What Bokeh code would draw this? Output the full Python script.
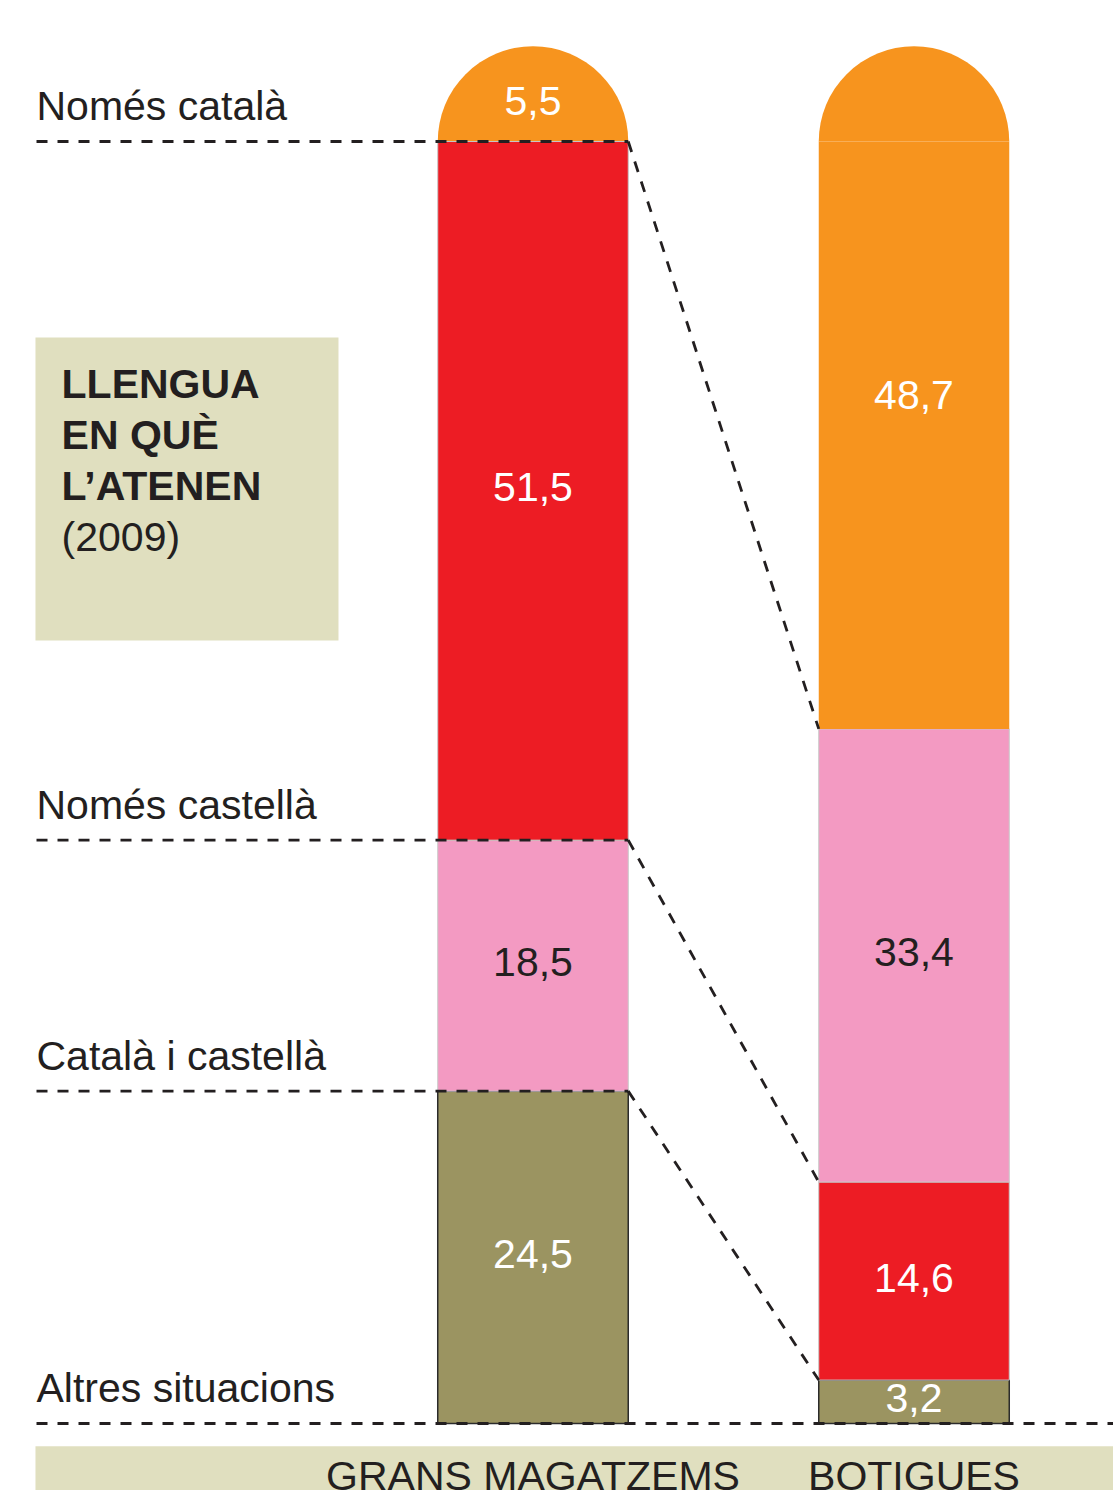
import numpy as np
from bokeh.plotting import figure
from bokeh.models import Range1d, ColumnDataSource
from bokeh.core.properties import value
from bokeh.embed import file_html
from bokeh.resources import INLINE

# ---------------- data ----------------
stores = ["GRANS MAGATZEMS", "BOTIGUES"]
gm_categories = ["Altres situacions", "Català i castellà", "Només castellà", "Només català"]
gm_values = [24.5, 18.5, 51.5, 5.5]
gm_labels = ["24,5", "18,5", "51,5", "5,5"]
bot_categories = ["Altres situacions", "Només castellà", "Català i castellà", "Només català"]
bot_values = [3.2, 14.6, 33.4, 48.7]
bot_labels = ["3,2", "14,6", "33,4", "48,7"]
title_lines = ["LLENGUA", "EN QUÈ", "L’ATENEN"]
subtitle = "(2009)"

# ---------------- style ----------------
colors = {
    "Només català": "#F7941E",
    "Només castellà": "#ED1C24",
    "Català i castellà": "#F39AC2",
    "Altres situacions": "#9B9461",
}
edge = {
    "Només català": ("#F7941E", 0),
    "Només castellà": ("#C8C8C8", 1),
    "Català i castellà": ("#C8C8C8", 1),
    "Altres situacions": ("#2B2B2B", 1.5),
}
value_color = {
    "Només català": "white",
    "Només castellà": "white",
    "Català i castellà": "#231F20",
    "Altres situacions": "white",
}
DARK = "#231F20"
BEIGE = "#E0DFBF"
FONT = value("Liberation Sans")

X0, X1 = -1.3976, 1.5236
Y0, Y1 = -4.939, 104.895
HALF = 0.25
LABEL_X = -1.3031
PANEL_L = -1.3058
SHIFT = 1.0   # baseline correction (data units)

p = figure(width=1113, height=1490, x_range=Range1d(X0, X1), y_range=Range1d(Y0, Y1),
           output_backend="svg", toolbar_location=None, x_axis_type=None, y_axis_type=None,
           min_border=0, outline_line_color=None)
p.grid.visible = False
p.background_fill_color = "white"
p.border_fill_color = "white"

cap_base = sum(gm_values[:-1])

# ---------------- bars ----------------
q = dict(left=[], right=[], bottom=[], top=[], fill=[], line=[], lw=[])
vt = dict(x=[], y=[], text=[], color=[])
caps = dict(x=[], color=[])
bounds = []
for xi, cats, vals, labs in [(0, gm_categories, gm_values, gm_labels),
                             (1, bot_categories, bot_values, bot_labels)]:
    b = 0.0
    bb = []
    for c, v, lab in zip(cats, vals, labs):
        t = b + v
        rt = min(t, cap_base)
        if rt > b + 1e-9:
            q["left"].append(xi - HALF); q["right"].append(xi + HALF)
            q["bottom"].append(b); q["top"].append(rt)
            q["fill"].append(colors[c]); q["line"].append(edge[c][0]); q["lw"].append(edge[c][1])
        vt["x"].append(xi); vt["y"].append(b + v / 2 + 0.25); vt["text"].append(lab)
        vt["color"].append(value_color[c])
        bb.append(t)
        b = t
    bounds.append(bb[:-1])
    caps["x"].append(xi); caps["color"].append(colors[cats[-1]])

# panels
p.quad(left=[PANEL_L], right=[-0.5105], bottom=[57.72], top=[80.05], fill_color=BEIGE, line_color=None)
p.quad(left=[PANEL_L], right=[X1 + 1], bottom=[Y0 - 5], top=[-1.68], fill_color=BEIGE, line_color=None)

p.wedge(x="x", y=cap_base, radius=HALF, start_angle=0, end_angle=np.pi,
        fill_color="color", line_color=None, source=ColumnDataSource(caps))
p.quad(left="left", right="right", bottom="bottom", top="top", fill_color="fill",
       line_color="line", line_width="lw", source=ColumnDataSource(q))

# ---------------- dashed guides ----------------
levels = [0.0] + bounds[0]
x_ends = [X1] + [HALF] * len(bounds[0])
p.segment(x0=[LABEL_X] * len(levels), y0=levels, x1=x_ends, y1=levels,
          line_color=DARK, line_width=2.8, line_dash="11 10")
p.segment(x0=[HALF] * len(bounds[0]), y0=bounds[0], x1=[1 - HALF] * len(bounds[1]), y1=bounds[1],
          line_color=DARK, line_width=2.8, line_dash="11 10")

# ---------------- texts ----------------
p.text(x="x", y="y", text="text", text_color="color", source=ColumnDataSource(vt),
       text_font=FONT, text_font_size="41px", text_align="center", text_baseline="middle")

cat_y = [0.0] + bounds[0]
p.text(x=[LABEL_X] * len(gm_categories), y=[v + 1.6 + SHIFT for v in cat_y], text=gm_categories,
       text_font=FONT, text_font_size="41px", text_color=DARK, text_baseline="alphabetic")

title_y = [75.56, 71.80, 68.04]
p.text(x=[-1.2373] * 3, y=[v + SHIFT + 0.1 for v in title_y], text=title_lines, text_font=FONT,
       text_font_size="41px", text_font_style="bold", text_color=DARK, text_baseline="alphabetic")
p.text(x=[-1.2373], y=[64.28 + SHIFT + 0.1], text=[subtitle], text_font=FONT, text_font_size="41px",
       text_color=DARK, text_baseline="alphabetic")

p.text(x=[0, 1], y=[-4.9 + SHIFT, -4.9 + SHIFT], text=stores, text_font=FONT, text_font_size="41px",
       text_color=DARK, text_align="center", text_baseline="alphabetic")

open("out.html", "w").write(file_html(p, INLINE))
